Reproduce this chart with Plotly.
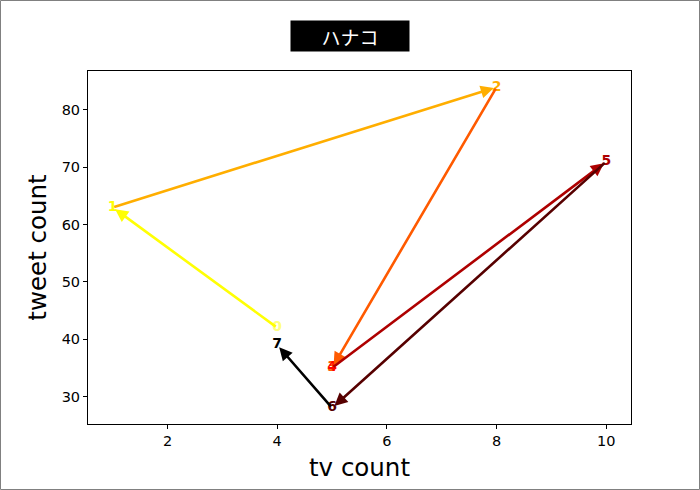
import plotly.graph_objects as go

# data
tv_count = [4, 1, 8, 5, 5, 10, 5, 4]
tweet_count = [42, 63, 84, 35, 35, 71, 28, 39]
labels = [str(i) for i in range(len(tv_count))]
title_text = 'ハナコ'


def hot(x):
    # matplotlib 'hot' colormap
    r = min(max(x / 0.365, 0), 1)
    g = min(max((x - 0.365) / 0.381, 0), 1)
    b = min(max((x - 0.746) / 0.254, 0), 1)
    return 'rgb(%d,%d,%d)' % (r * 255, g * 255, b * 255)


n = len(tv_count)
colors = [hot(1 - (i + 1) / n) for i in range(n)]

fig = go.Figure()

# arrows from point i to point i+1
for i in range(n - 1):
    if tv_count[i] == tv_count[i + 1] and tweet_count[i] == tweet_count[i + 1]:
        continue
    fig.add_annotation(
        x=tv_count[i + 1], y=tweet_count[i + 1],
        ax=tv_count[i], ay=tweet_count[i],
        xref='x', yref='y', axref='x', ayref='y',
        text='', showarrow=True,
        arrowhead=2, arrowsize=1.0, arrowwidth=2.6,
        arrowcolor=colors[i + 1], standoff=3,
    )

fig.add_trace(go.Scatter(
    x=tv_count, y=tweet_count, mode='text', text=['<b>%s</b>' % s for s in labels],
    textfont=dict(color=colors, size=14, family='DejaVu Sans'),
    textposition='middle center', showlegend=False, hoverinfo='skip',
))

# title in black box
fig.add_annotation(
    x=(350 - 88) / 543, y=1.0, xref='paper', yref='paper', yanchor='bottom', yshift=19,
    text=title_text, showarrow=False,
    font=dict(color='white', size=19, family='Noto Sans CJK JP'),
    bgcolor='black', borderpad=3, width=112, height=24,
)

# outer grey border
fig.add_shape(type='rect', xref='paper', yref='paper',
              x0=-87.5 / 543, x1=1 + 68.5 / 543, y0=-65.5 / 353, y1=1 + 70.5 / 353,
              line=dict(color='gray', width=1))

axis_style = dict(
    showgrid=False, zeroline=False, showline=True, linecolor='black', linewidth=1,
    mirror=True, ticks='outside', ticklen=4, tickcolor='black',
    tickfont=dict(size=14.5, color='black', family='DejaVu Sans'),
)
fig.update_xaxes(range=[0.55, 10.45], tickvals=[2, 4, 6, 8, 10],
                 title=dict(text='tv count', font=dict(size=24.5, color='black', family='DejaVu Sans'), standoff=10),
                 **axis_style)
fig.update_yaxes(range=[25.2, 86.8], tickvals=[30, 40, 50, 60, 70, 80],
                 title=dict(text='tweet count', font=dict(size=24.5, color='black', family='DejaVu Sans'), standoff=8),
                 **axis_style)

fig.update_layout(
    width=700, height=490,
    margin=dict(l=88, r=69, t=71, b=66),
    plot_bgcolor='white', paper_bgcolor='white',
    showlegend=False,
)

fig.write_html('out.html', config={'displayModeBar': False},
               post_script="document.body.style.margin='0';")
